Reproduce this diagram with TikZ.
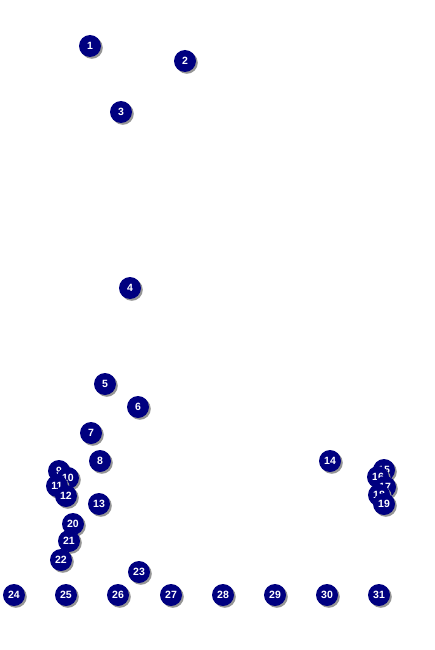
\documentclass[tikz,border=0pt]{standalone}
\usepackage{fontspec}
\setmainfont{Liberation Sans}
\definecolor{navy}{RGB}{0,0,128}
\definecolor{shad}{RGB}{150,150,150}
\tikzset{
  badge/.style={circle, fill=navy, minimum size=22pt, inner sep=0pt, text=white,
    font=\bfseries\fontsize{10.5}{10.5}\selectfont,
    preaction={draw=none, fill=shad, transform canvas={shift={(1.8pt,-1.8pt)}}}}
}
\begin{document}
\begin{tikzpicture}[x=1pt,y=-1pt]
\useasboundingbox (0,0) rectangle (435,650);
\foreach \n/\x/\y in {1/90/46, 2/185/61, 3/121/112, 4/130/288, 5/105/384, 6/138/407,
  7/91/433, 8/100/461, 9/59/471, 10/68/478, 11/57/486, 12/66/496, 13/99/504,
  14/330/461, 15/384/470, 16/378/477, 17/385/487, 18/379/495, 19/384/504,
  20/73/524, 21/69/541, 22/61/560, 23/139/572,
  24/14/595, 25/66/595, 26/118/595, 27/171/595, 28/223/595, 29/275/595, 30/327/595, 31/379/595}
  \node[badge] (n\n) at (\x,\y) {\n};
\end{tikzpicture}
\end{document}
